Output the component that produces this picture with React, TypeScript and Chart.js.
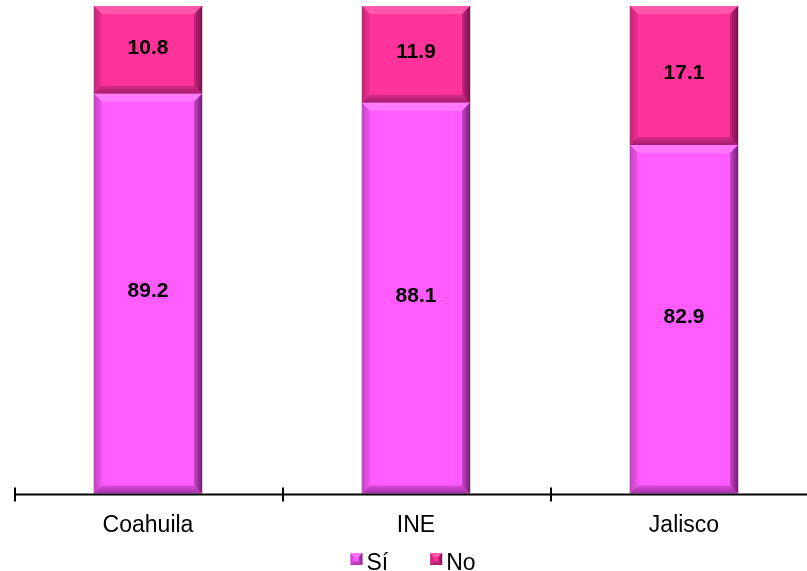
import React, { useEffect, useRef } from "react";
import { Chart, registerables } from "chart.js";

Chart.register(...registerables);

const categories = ["Coahuila", "INE", "Jalisco"];
const seriesNames = ["Sí", "No"];
const siValues = [89.2, 88.1, 82.9];
const noValues = [10.8, 11.9, 17.1];
const yMin = 40;
const yMax = 100;

const SI_COLOR = "#FF5CFF";
const NO_COLOR = "#FF3399";
const FONT = "'Liberation Sans', Arial, Helvetica, sans-serif";

function drawBevel(ctx: CanvasRenderingContext2D, l: number, t: number, r: number, bot: number, bw: number) {
  const b = Math.min(bw, (bot - t) / 2, (r - l) / 2);
  ctx.save();
  // top
  ctx.beginPath();
  ctx.moveTo(l, t); ctx.lineTo(r, t); ctx.lineTo(r - b, t + b); ctx.lineTo(l + b, t + b); ctx.closePath();
  ctx.fillStyle = "rgba(255,255,255,0.18)";
  ctx.fill();
  // left
  ctx.beginPath();
  ctx.moveTo(l, t); ctx.lineTo(l + b, t + b); ctx.lineTo(l + b, bot - b); ctx.lineTo(l, bot); ctx.closePath();
  const gl = ctx.createLinearGradient(l, 0, l + b, 0);
  gl.addColorStop(0, "rgba(60,0,60,0.30)");
  gl.addColorStop(1, "rgba(60,0,60,0.08)");
  ctx.fillStyle = gl;
  ctx.fill();
  // right
  ctx.beginPath();
  ctx.moveTo(r, t); ctx.lineTo(r, bot); ctx.lineTo(r - b, bot - b); ctx.lineTo(r - b, t + b); ctx.closePath();
  const gr = ctx.createLinearGradient(r - b, 0, r, 0);
  gr.addColorStop(0, "rgba(40,0,40,0.25)");
  gr.addColorStop(1, "rgba(40,0,40,0.65)");
  ctx.fillStyle = gr;
  ctx.fill();
  // bottom
  ctx.beginPath();
  ctx.moveTo(l, bot); ctx.lineTo(r, bot); ctx.lineTo(r - b, bot - b); ctx.lineTo(l + b, bot - b); ctx.closePath();
  const gb = ctx.createLinearGradient(0, bot - b, 0, bot);
  gb.addColorStop(0, "rgba(60,0,60,0.2)");
  gb.addColorStop(1, "rgba(60,0,60,0.45)");
  ctx.fillStyle = gb;
  ctx.fill();
  ctx.restore();
}

const bevelPlugin = {
  id: "bevelBars",
  afterDatasetsDraw(chart: any) {
    const ctx = chart.ctx as CanvasRenderingContext2D;
    const area = chart.chartArea;
    chart.data.datasets.forEach((ds: any, di: number) => {
      const meta = chart.getDatasetMeta(di);
      meta.data.forEach((el: any, i: number) => {
        const p = el.getProps(["x", "y", "base", "width"], true);
        const l = p.x - p.width / 2;
        const r = p.x + p.width / 2;
        const t = Math.max(Math.min(p.y, p.base), area.top);
        const bot = Math.min(Math.max(p.y, p.base), area.bottom);
        ctx.save();
        ctx.fillStyle = "rgba(0,0,0,0.18)";
        ctx.fillRect(l - 1, t, 1, bot - t);
        ctx.fillRect(r, t, 1, bot - t);
        ctx.restore();
        drawBevel(ctx, l, t, r, bot, 8);
        ctx.save();
        ctx.fillStyle = "#000";
        ctx.font = `bold 21px ${FONT}`;
        ctx.textAlign = "center";
        ctx.textBaseline = "middle";
        ctx.fillText(ds.data[i].toFixed(1), p.x, (t + bot) / 2 - 2);
        ctx.restore();
      });
    });
  },
};

const axisPlugin = {
  id: "axisAndLegend",
  afterDraw(chart: any) {
    const ctx = chart.ctx as CanvasRenderingContext2D;
    const xs = chart.scales.x;
    const n = chart.data.labels.length;
    const y0 = chart.chartArea.bottom + 1;
    ctx.save();
    ctx.strokeStyle = "#000";
    ctx.lineWidth = 2;
    ctx.beginPath();
    ctx.moveTo(xs.left, y0);
    ctx.lineTo(chart.width, y0);
    ctx.stroke();
    for (let i = 0; i <= n; i++) {
      const x = Math.round(xs.left + (i * xs.width) / n) + 1;
      ctx.beginPath();
      ctx.moveTo(x, y0 - 7);
      ctx.lineTo(x, y0 + 7);
      ctx.stroke();
    }
    ctx.restore();

    // legend
    ctx.save();
    ctx.font = `23px ${FONT}`;
    const box = 12;
    const gap = 4;
    const itemGap = 42;
    const items = chart.data.datasets.map((ds: any) => ({
      label: ds.label,
      color: ds.backgroundColor,
      w: ctx.measureText(ds.label).width,
    }));
    let total = 0;
    items.forEach((it: any, i: number) => {
      total += box + gap + it.w + (i < items.length - 1 ? itemGap : 0);
    });
    const cx = (xs.left + xs.right) / 2;
    let x = cx - total / 2 - 3;
    const boxTop = 553;
    const baseline = 570;
    items.forEach((it: any) => {
      ctx.fillStyle = it.color;
      ctx.fillRect(x, boxTop, box, box);
      drawBevel(ctx, x, boxTop, x + box, boxTop + box, 4);
      ctx.fillStyle = "#000";
      ctx.textAlign = "left";
      ctx.textBaseline = "alphabetic";
      ctx.fillText(it.label, x + box + gap, baseline);
      x += box + gap + it.w + itemGap;
    });
    ctx.restore();
  },
};

export default function App() {
  const ref = useRef<HTMLCanvasElement | null>(null);

  useEffect(() => {
    if (!ref.current) return;
    const chart = new Chart(ref.current, {
      type: "bar",
      data: {
        labels: categories,
        datasets: [
          {
            label: seriesNames[0],
            data: siValues,
            backgroundColor: SI_COLOR,
            borderWidth: 0,
            categoryPercentage: 1,
            barPercentage: 0.403,
            clip: 0,
          },
          {
            label: seriesNames[1],
            data: noValues,
            backgroundColor: NO_COLOR,
            borderWidth: 0,
            categoryPercentage: 1,
            barPercentage: 0.403,
            clip: 0,
          },
        ],
      },
      options: {
        responsive: false,
        animation: false,
        layout: { padding: { left: 14, right: 12, top: 6, bottom: 14 } },
        plugins: {
          legend: { display: false },
          tooltip: { enabled: false },
        },
        scales: {
          x: {
            stacked: true,
            offset: true,
            grid: { display: false, drawTicks: false },
            border: { display: false },
            ticks: {
              color: "#000",
              padding: 18,
              font: { family: FONT, size: 23 },
              maxRotation: 0,
            },
          },
          y: {
            stacked: true,
            display: false,
            min: yMin,
            max: yMax,
          },
        },
      },
      plugins: [bevelPlugin, axisPlugin],
    });
    return () => chart.destroy();
  }, []);

  return (
    <div style={{ position: "fixed", left: 0, top: 0, width: 807, height: 571, overflow: "hidden", background: "#fff" }}>
      <canvas ref={ref} width={830} height={571} style={{ display: "block" }} />
    </div>
  );
}
